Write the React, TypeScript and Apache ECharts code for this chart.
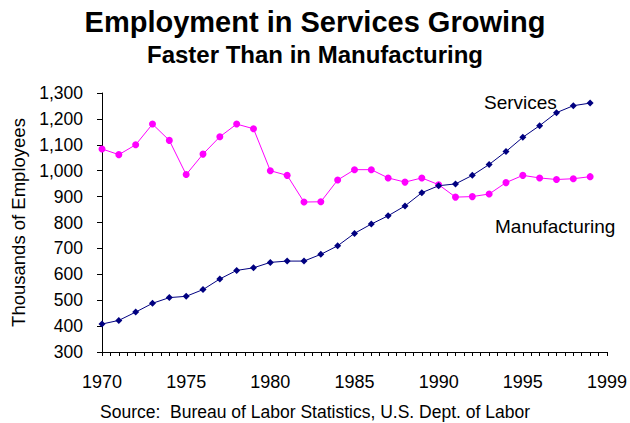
import React, { useEffect, useRef } from "react";
import * as echarts from "echarts";

const years = [1970,1971,1972,1973,1974,1975,1976,1977,1978,1979,1980,1981,1982,1983,1984,1985,1986,1987,1988,1989,1990,1991,1992,1993,1994,1995,1996,1997,1998,1999];
const manufacturing = [1084,1062,1100,1180,1117,985,1064,1131,1180,1162,1000,982,879,880,964,1004,1004,972,956,972,946,898,900,910,954,982,972,966,969,977];
const services = [408,422,454,488,510,515,541,582,615,625,646,651,651,677,710,758,794,826,864,915,942,949,982,1024,1074,1129,1174,1224,1251,1261];
const yTicks = { min: 300, max: 1300, step: 100 };
const xTicks = { min: 1970, max: 2000, step: 0.5, labelEvery: 5, lastLabel: "1999" };

const FONT = "'Liberation Sans', Arial, sans-serif";

export default function App() {
  const ref = useRef<HTMLDivElement>(null);
  useEffect(() => {
    if (!ref.current) return;
    const chart = echarts.init(ref.current, null, { renderer: "svg" });
    chart.setOption({
      animation: false,
      backgroundColor: "#ffffff",
      textStyle: { fontFamily: FONT },
      title: [
        {
          text: "Employment in Services Growing",
          left: "center",
          top: 2,
          textStyle: { fontFamily: FONT, fontSize: 29, fontWeight: "bold", color: "#000" },
        },
        {
          text: "Faster Than in Manufacturing",
          left: "center",
          top: 37,
          textStyle: { fontFamily: FONT, fontSize: 24, fontWeight: "bold", color: "#000" },
        },
        {
          text: "Source:  Bureau of Labor Statistics, U.S. Dept. of Labor",
          left: "center",
          top: 398,
          textStyle: { fontFamily: FONT, fontSize: 17.5, fontWeight: "normal", color: "#000" },
        },
      ],
      grid: { left: 102, right: 22, top: 93, bottom: 71, containLabel: false },
      xAxis: {
        type: "value",
        min: xTicks.min,
        max: xTicks.max,
        interval: xTicks.step,
        axisLine: { show: true, lineStyle: { color: "#000", width: 1 } },
        axisTick: { show: true, length: 4, lineStyle: { color: "#000" } },
        splitLine: { show: false },
        axisLabel: {
          color: "#000",
          fontSize: 18,
          fontFamily: FONT,
          margin: 21,
          formatter: (v: number) => {
            if (v === xTicks.max) return xTicks.lastLabel;
            return (v - xTicks.min) % xTicks.labelEvery === 0 ? String(v) : "";
          },
        },
      },
      yAxis: {
        type: "value",
        min: yTicks.min,
        max: yTicks.max,
        interval: yTicks.step,
        name: "Thousands of Employees",
        nameLocation: "middle",
        nameGap: 73,
        nameTextStyle: { color: "#000", fontSize: 18.5, fontFamily: FONT },
        axisLine: { show: true, lineStyle: { color: "#000", width: 1 } },
        axisTick: { show: true, length: 5, lineStyle: { color: "#000" } },
        splitLine: { show: false },
        axisLabel: {
          color: "#000",
          fontSize: 17.5,
          fontFamily: FONT,
          margin: 19,
          formatter: (v: number) => v.toLocaleString("en-US"),
        },
      },
      series: [
        {
          name: "Manufacturing",
          type: "line",
          data: years.map((y, i) => [y, manufacturing[i]]),
          symbol: "circle",
          symbolSize: 7,
          lineStyle: { color: "#FF00FF", width: 1 },
          itemStyle: { color: "#FF00FF" },
        },
        {
          name: "Services",
          type: "line",
          data: years.map((y, i) => [y, services[i]]),
          symbol: "diamond",
          symbolSize: 7,
          lineStyle: { color: "#000080", width: 1 },
          itemStyle: { color: "#000080" },
        },
      ],
      graphic: [
        {
          type: "text",
          left: 484,
          top: 93,
          style: { text: "Services", fontSize: 19, fontFamily: FONT, fill: "#000" },
        },
        {
          type: "text",
          left: 495,
          top: 217,
          style: { text: "Manufacturing", fontSize: 19, fontFamily: FONT, fill: "#000" },
        },
      ],
    });
    return () => chart.dispose();
  }, []);
  return (
    <div
      ref={ref}
      style={{ position: "fixed", left: 0, top: 0, width: 630, height: 423 }}
    />
  );
}
